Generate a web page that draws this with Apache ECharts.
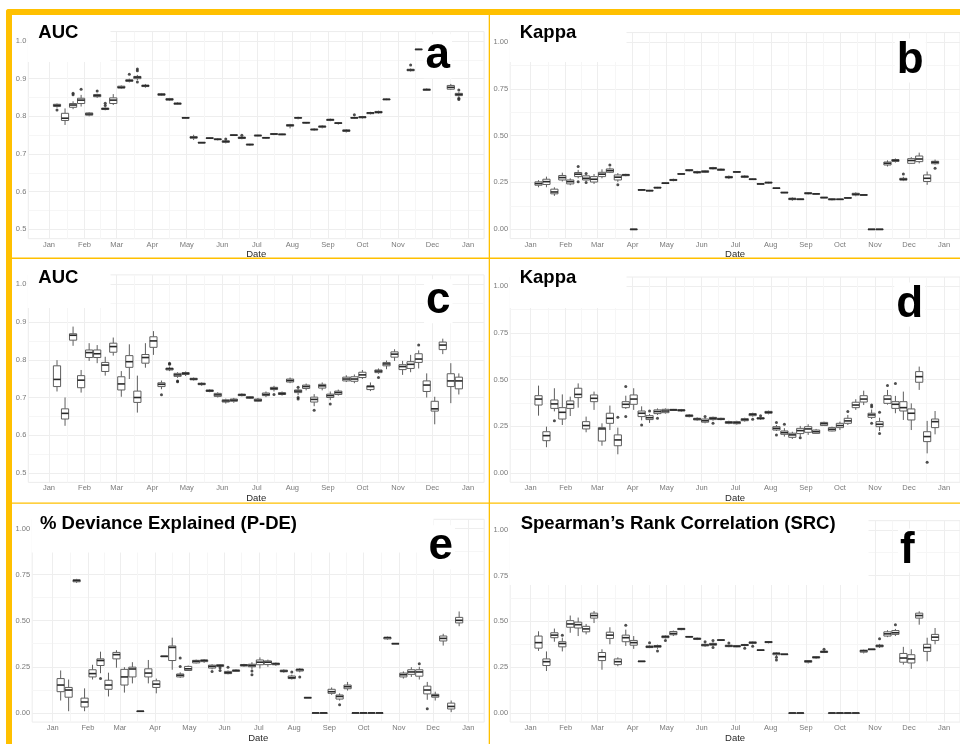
<!DOCTYPE html>
<html>
<head>
<meta charset="utf-8">
<title>Weekly model skill</title>
<script src="https://cdn.jsdelivr.net/npm/echarts@6/dist/echarts.min.js"></script>
<style>
html,body{margin:0;padding:0;background:#fff}
#chart{width:960px;height:744px}
</style>
</head>
<body>
<div id="chart"></div>
<script>
// weekly model runs (box centres)
const weeks = ['2021-01-08','2021-01-15','2021-01-22','2021-01-29','2021-02-05','2021-02-12','2021-02-19','2021-02-26',
  '2021-03-05','2021-03-12','2021-03-19','2021-03-26','2021-04-02','2021-04-09','2021-04-16','2021-04-23','2021-04-30',
  '2021-05-07','2021-05-14','2021-05-21','2021-05-28','2021-06-04','2021-06-11','2021-06-18','2021-06-25',
  '2021-07-02','2021-07-09','2021-07-16','2021-07-23','2021-07-30','2021-08-06','2021-08-13','2021-08-20','2021-08-27',
  '2021-09-03','2021-09-10','2021-09-17','2021-09-24','2021-10-01','2021-10-08','2021-10-15','2021-10-22','2021-10-29',
  '2021-11-05','2021-11-12','2021-11-19','2021-11-26','2021-12-03','2021-12-10','2021-12-17','2021-12-24'];

const monthTicks = ['2021-01-01','2021-02-01','2021-03-01','2021-04-01','2021-05-01','2021-06-01','2021-07-01',
  '2021-08-01','2021-09-01','2021-10-01','2021-11-01','2021-12-01','2022-01-01'];
const monthLabels = ['Jan','Feb','Mar','Apr','May','Jun','Jul','Aug','Sep','Oct','Nov','Dec','Jan'];
const midMonths = ['2021-01-16 12:00','2021-02-15','2021-03-16 12:00','2021-04-16','2021-05-16 12:00','2021-06-16',
  '2021-07-16 12:00','2021-08-16 12:00','2021-09-16','2021-10-16 12:00','2021-11-16','2021-12-16 12:00'];

const aucTicks = [0.5, 0.6, 0.7, 0.8, 0.9, 1.0];
const aucLabels = ['0.5','0.6','0.7','0.8','0.9','1.0'];
const aucMinor = [0.55, 0.65, 0.75, 0.85, 0.95];
const kTicks = [0, 0.25, 0.5, 0.75, 1];
const kLabels = ['0.00','0.25','0.50','0.75','1.00'];
const kMinor = [0.125, 0.375, 0.625, 0.875];

// [lower whisker, Q1, median, Q3, upper whisker] per week, null = no run
const aucA = [
  [0.823,0.826,0.829,0.832,0.834],[0.777,0.789,0.795,0.808,0.821],[0.819,0.824,0.830,0.834,0.840],[0.826,0.834,0.843,0.848,0.857],
  [0.800,0.803,0.806,0.809,0.811],[0.849,0.852,0.855,0.858,0.860],[0.816,0.818,0.820,0.822,0.824],[0.830,0.834,0.843,0.849,0.859],
  [0.873,0.875,0.877,0.880,0.882],[0.890,0.893,0.895,0.897,0.900],[0.896,0.900,0.904,0.906,0.910],[0.876,0.879,0.881,0.883,0.886],
  null,[0.854,0.856,0.858,0.860,0.862],[0.841,0.843,0.845,0.847,0.849],[0.831,0.832,0.834,0.835,0.837],[0.794,0.795,0.796,0.797,0.798],
  [0.737,0.742,0.744,0.746,0.751],[0.729,0.729,0.730,0.731,0.731],[0.740,0.741,0.742,0.743,0.744],[0.736,0.738,0.739,0.740,0.742],
  [0.728,0.731,0.733,0.735,0.737],[0.748,0.749,0.750,0.751,0.752],[0.739,0.741,0.743,0.745,0.746],[0.722,0.724,0.725,0.726,0.727],
  [0.747,0.748,0.749,0.750,0.751],[0.740,0.742,0.743,0.744,0.745],[0.750,0.752,0.753,0.754,0.755],[0.750,0.751,0.752,0.753,0.754],
  [0.768,0.774,0.776,0.778,0.780],[0.792,0.795,0.796,0.797,0.799],[0.780,0.782,0.783,0.784,0.785],[0.762,0.764,0.765,0.766,0.768],
  [0.768,0.771,0.773,0.774,0.776],[0.787,0.789,0.791,0.792,0.794],[0.778,0.781,0.782,0.783,0.785],[0.757,0.760,0.762,0.764,0.766],
  [0.793,0.795,0.796,0.797,0.799],[0.794,0.796,0.798,0.799,0.801],[0.805,0.807,0.809,0.810,0.812],[0.807,0.809,0.811,0.813,0.815],
  [0.843,0.844,0.845,0.846,0.847],null,null,[0.919,0.921,0.923,0.925,0.927],[0.977,0.978,0.978,0.978,0.979],
  [0.868,0.869,0.871,0.872,0.874],[0.905,0.909,0.912,0.915,0.918],null,[0.870,0.872,0.877,0.882,0.886],[0.852,0.855,0.858,0.861,0.864]
];
const outA = [[0,0.817],[2,0.857],[2,0.861],[3,0.872],[5,0.867],[6,0.829],[6,0.835],[9,0.912],[10,0.926],[10,0.921],[10,0.891],
  [21,0.740],[23,0.750],[37,0.804],[44,0.936],[50,0.870],[50,0.848],[50,0.845]];

const kappaB = [
  [0.224,0.235,0.244,0.253,0.262],[0.224,0.239,0.254,0.267,0.281],[0.178,0.189,0.199,0.214,0.224],[0.255,0.263,0.276,0.287,0.302],
  [0.235,0.242,0.254,0.263,0.272],[0.272,0.281,0.294,0.303,0.317],[0.260,0.263,0.272,0.285,0.290],[0.242,0.252,0.267,0.281,0.295],
  [0.272,0.281,0.294,0.304,0.320],[0.300,0.304,0.313,0.322,0.330],[0.253,0.263,0.278,0.290,0.300],[0.283,0.286,0.290,0.293,0.296],
  [0,0,0,0,0],[0.205,0.208,0.210,0.212,0.215],[0.202,0.204,0.206,0.208,0.210],[0.218,0.220,0.222,0.224,0.226],[0.242,0.244,0.246,0.248,0.250],
  [0.256,0.260,0.263,0.266,0.270],[0.292,0.294,0.295,0.297,0.299],[0.309,0.312,0.315,0.318,0.321],[0.296,0.301,0.304,0.308,0.312],
  [0.300,0.304,0.308,0.312,0.316],[0.319,0.322,0.326,0.329,0.333],[0.312,0.315,0.318,0.321,0.324],[0.268,0.274,0.278,0.282,0.287],
  [0.302,0.304,0.306,0.308,0.310],[0.273,0.277,0.281,0.284,0.288],[0.263,0.265,0.267,0.269,0.271],[0.238,0.240,0.242,0.244,0.246],
  [0.245,0.247,0.249,0.251,0.253],[0.216,0.218,0.219,0.221,0.222],[0.193,0.195,0.196,0.197,0.199],[0.152,0.158,0.162,0.166,0.170],
  [0.156,0.158,0.160,0.162,0.164],[0.186,0.189,0.192,0.195,0.198],[0.186,0.188,0.189,0.190,0.192],[0.166,0.167,0.169,0.171,0.172],
  [0.154,0.157,0.160,0.162,0.164],[0.158,0.159,0.160,0.161,0.162],[0.164,0.166,0.167,0.169,0.170],[0.176,0.182,0.187,0.192,0.197],
  [0.179,0.181,0.183,0.185,0.187],[0,0,0,0,0],[0,0,0,0,0],[0.335,0.343,0.352,0.359,0.368],[0.356,0.362,0.368,0.372,0.378],
  [0.257,0.262,0.267,0.272,0.280],[0.350,0.352,0.367,0.377,0.385],[0.352,0.361,0.375,0.391,0.409],[0.237,0.255,0.272,0.290,0.308],
  [0.345,0.350,0.358,0.363,0.372]
];
const outB = [[5,0.335],[5,0.254],[6,0.297],[6,0.249],[9,0.343],[10,0.237],[46,0.295],[50,0.326]];

const aucC = [
  [0.716,0.729,0.748,0.784,0.799],[0.625,0.643,0.658,0.670,0.700],[0.837,0.852,0.865,0.869,0.888],[0.713,0.726,0.746,0.758,0.773],
  [0.797,0.806,0.819,0.826,0.844],[0.791,0.806,0.816,0.826,0.839],[0.758,0.769,0.786,0.793,0.808],[0.811,0.820,0.835,0.844,0.859],
  [0.702,0.720,0.736,0.755,0.770],[0.749,0.780,0.795,0.811,0.841],[0.660,0.687,0.700,0.717,0.758],[0.779,0.791,0.806,0.814,0.844],
  [0.813,0.833,0.850,0.861,0.876],[0.722,0.729,0.735,0.739,0.745],[0.770,0.773,0.776,0.778,0.782],[0.752,0.756,0.760,0.764,0.767],
  [0.757,0.761,0.764,0.766,0.769],[0.745,0.747,0.749,0.751,0.753],[0.731,0.734,0.736,0.738,0.740],[0.714,0.716,0.718,0.720,0.722],
  [0.700,0.703,0.707,0.711,0.714],[0.684,0.688,0.691,0.694,0.697],[0.686,0.690,0.693,0.696,0.699],[0.703,0.705,0.707,0.709,0.711],
  [0.696,0.698,0.700,0.702,0.704],[0.688,0.690,0.693,0.696,0.699],[0.701,0.705,0.708,0.712,0.716],[0.716,0.721,0.724,0.727,0.731],
  [0.705,0.708,0.710,0.713,0.716],[0.738,0.741,0.745,0.749,0.753],[0.706,0.713,0.717,0.720,0.724],[0.719,0.724,0.729,0.733,0.737],
  [0.677,0.688,0.695,0.701,0.709],[0.719,0.725,0.731,0.735,0.740],[0.693,0.700,0.705,0.709,0.716],[0.705,0.708,0.713,0.717,0.721],
  [0.741,0.744,0.749,0.754,0.759],[0.738,0.743,0.749,0.755,0.761],[0.749,0.753,0.760,0.767,0.773],[0.717,0.721,0.729,0.731,0.740],
  [0.763,0.766,0.770,0.773,0.777],[0.775,0.784,0.789,0.793,0.798],[0.797,0.807,0.815,0.821,0.828],[0.760,0.774,0.782,0.787,0.797],
  [0.767,0.777,0.788,0.795,0.813],[0.777,0.793,0.802,0.816,0.825],[0.700,0.716,0.733,0.744,0.764],[0.629,0.664,0.670,0.690,0.702],
  [0.815,0.827,0.839,0.847,0.856],[0.685,0.729,0.744,0.763,0.791],[0.708,0.723,0.744,0.754,0.764]
];
const outC = [[13,0.707],[14,0.791],[14,0.788],[15,0.744],[15,0.742],[27,0.708],[30,0.727],[30,0.700],[30,0.696],
  [32,0.666],[34,0.683],[40,0.753],[45,0.839]];

const kappaD = [
  [0.307,0.364,0.396,0.414,0.468],[0.138,0.173,0.200,0.221,0.248],[0.330,0.346,0.370,0.391,0.454],[0.257,0.289,0.325,0.350,0.421],
  [0.305,0.346,0.368,0.386,0.409],[0.350,0.404,0.421,0.454,0.480],[0.218,0.236,0.254,0.275,0.302],[0.338,0.382,0.400,0.418,0.436],
  [0.146,0.171,0.236,0.243,0.266],[0.230,0.266,0.293,0.320,0.361],[0.100,0.146,0.177,0.204,0.243],[0.343,0.350,0.368,0.382,0.414],
  [0.338,0.368,0.396,0.418,0.454],[0.282,0.302,0.320,0.332,0.357],[0.268,0.286,0.296,0.307,0.316],[0.311,0.318,0.329,0.338,0.346],
  [0.318,0.323,0.332,0.341,0.346],[0.332,0.335,0.338,0.341,0.343],[0.328,0.332,0.336,0.339,0.343],[0.298,0.302,0.307,0.311,0.316],
  [0.280,0.284,0.289,0.293,0.298],[0.266,0.272,0.280,0.289,0.295],[0.280,0.286,0.293,0.298,0.302],[0.282,0.286,0.289,0.293,0.296],
  [0.261,0.266,0.271,0.275,0.280],[0.259,0.264,0.270,0.275,0.280],[0.275,0.280,0.286,0.291,0.296],[0.302,0.307,0.314,0.318,0.323],
  [0.284,0.289,0.293,0.296,0.300],[0.314,0.320,0.325,0.330,0.334],[0.225,0.230,0.239,0.248,0.257],[0.195,0.207,0.216,0.225,0.240],
  [0.182,0.191,0.204,0.213,0.221],[0.195,0.211,0.227,0.239,0.252],[0.204,0.218,0.236,0.248,0.261],[0.209,0.212,0.221,0.230,0.236],
  [0.252,0.254,0.264,0.271,0.275],[0.223,0.225,0.234,0.243,0.248],[0.230,0.243,0.254,0.266,0.275],[0.257,0.266,0.279,0.293,0.311],
  [0.338,0.350,0.364,0.379,0.395],[0.364,0.380,0.396,0.414,0.441],[0.289,0.298,0.311,0.320,0.340],[0.225,0.248,0.261,0.275,0.296],
  [0.366,0.373,0.396,0.414,0.445],[0.320,0.346,0.368,0.382,0.413],[0.284,0.332,0.350,0.382,0.436],[0.230,0.284,0.320,0.343,0.373],
  [0.445,0.486,0.516,0.543,0.570],[0.105,0.168,0.195,0.221,0.279],[0.207,0.243,0.275,0.289,0.332]
];
const outD = [[2,0.280],[10,0.298],[11,0.463],[11,0.302],[13,0.257],[14,0.332],[15,0.293],[21,0.302],[22,0.266],[27,0.288],
  [28,0.307],[30,0.271],[30,0.204],[31,0.261],[33,0.189],[39,0.329],[42,0.364],[42,0.355],[42,0.266],[43,0.325],[43,0.211],
  [44,0.468],[45,0.480],[49,0.057]];

const pdeE = [
  [0.067,0.115,0.151,0.186,0.230],[0.009,0.085,0.124,0.138,0.181],[0.705,0.711,0.718,0.722,0.727],[0.009,0.032,0.059,0.080,0.133],
  [0.181,0.195,0.213,0.234,0.261],[0.215,0.257,0.284,0.293,0.332],[0.089,0.128,0.151,0.177,0.218],[0.245,0.293,0.316,0.328,0.340],
  [0.110,0.151,0.195,0.236,0.248],[0.160,0.195,0.238,0.248,0.275],[0.009,0.009,0.009,0.010,0.010],[0.160,0.195,0.216,0.239,0.287],
  [0.106,0.138,0.156,0.174,0.186],[0.306,0.307,0.307,0.308,0.308],[0.234,0.284,0.355,0.363,0.408],[0.190,0.195,0.204,0.211,0.220],
  [0.227,0.230,0.239,0.252,0.257],[0.268,0.271,0.280,0.285,0.289],[0.271,0.278,0.284,0.287,0.291],[0.236,0.243,0.252,0.259,0.264],
  [0.249,0.252,0.257,0.261,0.265],[0.209,0.213,0.218,0.225,0.230],[0.222,0.225,0.230,0.232,0.236],[0.250,0.254,0.259,0.262,0.266],
  [0.236,0.250,0.257,0.264,0.275],[0.241,0.261,0.275,0.287,0.301],[0.250,0.262,0.275,0.282,0.289],[0.255,0.261,0.266,0.270,0.273],
  [0.218,0.223,0.227,0.232,0.236],[0.181,0.186,0.191,0.200,0.207],[0.220,0.227,0.234,0.238,0.243],[0.083,0.083,0.083,0.083,0.083],
  [0,0,0,0,0],[0,0,0,0,0],[0.098,0.106,0.115,0.128,0.138],[0.067,0.075,0.089,0.097,0.106],[0.121,0.131,0.142,0.151,0.168],
  [0,0,0,0,0],[0,0,0,0,0],[0,0,0,0,0],[0,0,0,0,0],[0.397,0.401,0.408,0.410,0.414],[0.376,0.376,0.376,0.376,0.376],
  [0.186,0.195,0.207,0.216,0.225],[0.195,0.209,0.222,0.234,0.248],[0.181,0.199,0.222,0.234,0.250],[0.071,0.103,0.124,0.145,0.168],
  [0.067,0.085,0.094,0.101,0.115],[0.365,0.390,0.404,0.417,0.429],[0.004,0.021,0.035,0.053,0.067],[0.470,0.488,0.502,0.518,0.550]
];
const outE = [[5,0.186],[15,0.298],[15,0.252],[19,0.225],[20,0.245],[20,0.230],[21,0.248],[24,0.227],[24,0.207],[29,0.222],
  [30,0.195],[35,0.044],[45,0.266],[46,0.023]];

const srcF = [
  [0.339,0.354,0.384,0.420,0.446],[0.229,0.259,0.280,0.295,0.336],[0.389,0.411,0.425,0.438,0.461],[0.336,0.361,0.379,0.389,0.411],
  [0.438,0.468,0.486,0.504,0.532],[0.420,0.464,0.482,0.496,0.521],[0.429,0.443,0.459,0.473,0.486],[0.491,0.518,0.532,0.545,0.557],
  [0.236,0.286,0.307,0.330,0.348],[0.375,0.407,0.425,0.441,0.468],[0.255,0.264,0.280,0.295,0.304],[0.366,0.389,0.411,0.425,0.455],
  [0.350,0.370,0.384,0.396,0.420],[0.282,0.282,0.282,0.283,0.283],[0.354,0.357,0.361,0.366,0.370],[0.350,0.359,0.364,0.368,0.373],
  [0.407,0.411,0.416,0.421,0.425],[0.420,0.427,0.434,0.445,0.450],[0.452,0.455,0.459,0.462,0.464],[0.411,0.414,0.416,0.418,0.420],
  [0.398,0.402,0.405,0.409,0.412],[0.361,0.366,0.371,0.375,0.380],[0.364,0.370,0.375,0.380,0.386],[0.393,0.396,0.398,0.400,0.402],
  [0.359,0.362,0.366,0.370,0.373],[0.359,0.361,0.364,0.368,0.370],[0.364,0.368,0.371,0.374,0.377],[0.375,0.380,0.384,0.388,0.391],
  [0.339,0.341,0.343,0.345,0.346],[0.380,0.384,0.387,0.390,0.393],[0.311,0.318,0.325,0.327,0.330],[0.321,0.321,0.321,0.321,0.321],
  [0,0,0,0,0],[0,0,0,0,0],[0.270,0.277,0.282,0.286,0.289],[0.296,0.300,0.304,0.307,0.311],[0.327,0.330,0.334,0.338,0.341],
  [0,0,0,0,0],[0,0,0,0,0],[0,0,0,0,0],[0,0,0,0,0],[0.325,0.332,0.339,0.343,0.346],[0.348,0.348,0.348,0.348,0.348],
  [0.355,0.361,0.366,0.371,0.377],[0.414,0.420,0.432,0.443,0.452],[0.420,0.429,0.438,0.450,0.459],[0.264,0.277,0.300,0.325,0.361],
  [0.241,0.273,0.295,0.318,0.348],[0.482,0.518,0.532,0.545,0.555],[0.282,0.336,0.357,0.375,0.411],[0.375,0.396,0.414,0.429,0.464]
];
const outF = [[3,0.425],[11,0.479],[14,0.384],[15,0.339],[16,0.396],[21,0.389],[22,0.396],[22,0.357],[24,0.382],[26,0.354],
  [27,0.364],[30,0.304],[30,0.289],[36,0.348],[43,0.405],[45,0.482]];

const FONT = '"Liberation Sans", Arial, sans-serif';
const GOLD = '#FFC000';
const X_MIN = '2020-12-14', X_MAX = '2022-01-15';

// dates -> ms, read by the value axis
const ts = s => +echarts.time.parse(s);
const monthVals = monthTicks.map(ts);
const midVals = midMonths.map(ts);
const weekVals = weeks.map(ts);

const panels = [
  {title:'AUC', tag:'a', boxes:aucA, out:outA, ticks:aucTicks, labels:aucLabels, minor:aucMinor, ymin:0.475, ymax:1.025,
   grid:[28.3,31.6,455.8,207.1], cover:[27.5,26,83,36], titleAt:[38.3,32.6], tagAt:[437.8,56.3]},
  {title:'Kappa', tag:'b', boxes:kappaB, out:outB, ticks:kTicks, labels:kLabels, minor:kMinor, ymin:-0.05, ymax:1.05,
   grid:[510.2,32.6,451.4,206], cover:[509.5,26,117,36], titleAt:[519.7,32.6], tagAt:[910.3,60.6]},
  {title:'AUC', tag:'c', boxes:aucC, out:outC, ticks:aucTicks, labels:aucLabels, minor:aucMinor, ymin:0.475, ymax:1.025,
   grid:[28.3,274.9,455.8,207.5], cover:[27.5,268,83,40], titleAt:[38.3,277.6], tagAt:[438.3,301.3]},
  {title:'Kappa', tag:'d', boxes:kappaD, out:outD, ticks:kTicks, labels:kLabels, minor:kMinor, ymin:-0.05, ymax:1.05,
   grid:[510.2,277,451.4,205.3], cover:[509.5,268,117,40], titleAt:[519.7,277.6], tagAt:[909.7,304.6]},
  {title:'% Deviance Explained (P-DE)', tag:'e', boxes:pdeE, out:outE, ticks:kTicks, labels:kLabels, minor:kMinor, ymin:-0.05, ymax:1.05,
   grid:[32.2,519.3,452,206.8], cover:[31.5,512,402,40.5], titleAt:[40,523.5], tagAt:[440.8,547.3]},
  {title:'Spearman\u2019s Rank Correlation (SRC)', tag:'f', boxes:srcF, out:outF, ticks:kTicks, labels:kLabels, minor:kMinor, ymin:-0.05, ymax:1.05,
   grid:[510.2,520.7,451.4,205.3], cover:[509.5,512,359,73], titleAt:[520.7,523.5], tagAt:[907.3,550.6]}
];

function renderBox(params, api) {
  const t = api.value(0);
  const y = v => api.coord([t, v])[1];
  const x = api.coord([t, api.value(3)])[0];
  const lo = y(api.value(1)), q1 = y(api.value(2)), med = y(api.value(3)), q3 = y(api.value(4)), hi = y(api.value(5));
  const hw = 3.6;
  const edge = {stroke:'#5e5e5e', lineWidth:1};
  return {type:'group', children:[
    {type:'line', shape:{x1:x, y1:hi, x2:x, y2:q3}, style:edge},
    {type:'line', shape:{x1:x, y1:q1, x2:x, y2:lo}, style:edge},
    {type:'rect', shape:{x:x - hw, y:q3, width:hw * 2, height:Math.max(q1 - q3, 0.6)},
     style:{fill:'#fff', stroke:'#5e5e5e', lineWidth:1}},
    {type:'line', shape:{x1:x - hw, y1:med, x2:x + hw, y2:med}, style:{stroke:'#2a2a2a', lineWidth:1.6}}
  ]};
}

const grids = [], xAxes = [], yAxes = [], series = [], graphics = [];

panels.forEach((p, i) => {
  const [left, top, width, height] = p.grid;
  grids.push({left, top, width, height, show:true, borderColor:'#ececec', borderWidth:1, backgroundColor:'transparent'});

  xAxes.push({
    type:'value', gridIndex:i, min:ts(X_MIN), max:ts(X_MAX), scale:true,
    name:'Date', nameLocation:'middle', nameGap:9.5,
    nameTextStyle:{fontFamily:FONT, fontSize:9.5, color:'#2a2a2a'},
    axisLine:{show:false},
    axisTick:{show:false, customValues:monthVals},
    axisLabel:{customValues:monthVals, margin:2, fontFamily:FONT, fontSize:7.5, color:'#7a7a7a',
      formatter: v => { const k = monthVals.indexOf(v); return k >= 0 ? monthLabels[k] : ''; }},
    splitLine:{show:true, lineStyle:{color:'#eeeeee', width:1}}
  });
  xAxes.push({
    type:'value', gridIndex:i, min:ts(X_MIN), max:ts(X_MAX), scale:true,
    axisLine:{show:false},
    axisTick:{show:false, customValues:midVals},
    axisLabel:{show:false},
    splitLine:{show:true, lineStyle:{color:'#f6f6f6', width:1}}
  });
  yAxes.push({
    type:'value', gridIndex:i, min:p.ymin, max:p.ymax,
    axisLine:{show:false},
    axisTick:{show:false, customValues:p.ticks},
    axisLabel:{customValues:p.ticks, margin:2, fontFamily:FONT, fontSize:7.5, color:'#7a7a7a',
      formatter: v => { const k = p.ticks.indexOf(v); return k >= 0 ? p.labels[k] : ''; }},
    splitLine:{show:true, lineStyle:{color:'#eeeeee', width:1}}
  });
  yAxes.push({
    type:'value', gridIndex:i, min:p.ymin, max:p.ymax,
    axisLine:{show:false},
    axisTick:{show:false, customValues:p.minor},
    axisLabel:{show:false},
    splitLine:{show:true, lineStyle:{color:'#f6f6f6', width:1}}
  });

  const rows = [];
  p.boxes.forEach((b, k) => { if (b) rows.push([weekVals[k]].concat(b)); });
  series.push({
    type:'custom', xAxisIndex:2 * i, yAxisIndex:2 * i, renderItem:renderBox, z:3,
    dimensions:['date', 'lo', 'q1', 'med', 'q3', 'hi'],
    encode:{x:0, y:[1, 2, 3, 4, 5]},
    data:rows
  });
  series.push({
    type:'scatter', xAxisIndex:2 * i, yAxisIndex:2 * i, z:4,
    symbol:'circle', symbolSize:3, itemStyle:{color:'#222'},
    data:p.out.map(o => [weekVals[o[0]], o[1]])
  });

  // pasted title block hides the grid behind it
  const [cx, cy, cw, ch] = p.cover;
  graphics.push({type:'rect', z:50, shape:{x:cx, y:cy, width:cw, height:ch}, style:{fill:'#fff'}});
  graphics.push({type:'text', z:51, x:p.titleAt[0], y:p.titleAt[1],
    style:{text:p.title, fontFamily:FONT, fontWeight:'bold', fontSize:18.5, fill:'#000', align:'left', verticalAlign:'middle'}});
  graphics.push({type:'text', z:51, x:p.tagAt[0], y:p.tagAt[1],
    style:{text:p.tag, fontFamily:FONT, fontWeight:'bold', fontSize:44, fill:'#000', align:'center', verticalAlign:'middle',
      backgroundColor:'#fff', padding:[0, 2]}});
});

// gold frame and panel dividers
graphics.push(
  {type:'rect', z:60, shape:{x:6, y:9, width:954, height:6, r:[3, 0, 0, 0]}, style:{fill:GOLD}},
  {type:'rect', z:60, shape:{x:6, y:9, width:6, height:735, r:[3, 0, 0, 0]}, style:{fill:GOLD}},
  {type:'rect', z:60, shape:{x:488.7, y:15, width:1.3, height:729}, style:{fill:GOLD}},
  {type:'rect', z:60, shape:{x:12, y:257.6, width:948, height:1.3}, style:{fill:GOLD}},
  {type:'rect', z:60, shape:{x:12, y:502.4, width:948, height:1.3}, style:{fill:GOLD}}
);

const chart = echarts.init(document.getElementById('chart'), null, {renderer:'canvas'});
chart.setOption({
  animation:false,
  backgroundColor:'#fff',
  grid:grids,
  xAxis:xAxes,
  yAxis:yAxes,
  series:series,
  graphic:graphics
});
</script>
</body>
</html>
